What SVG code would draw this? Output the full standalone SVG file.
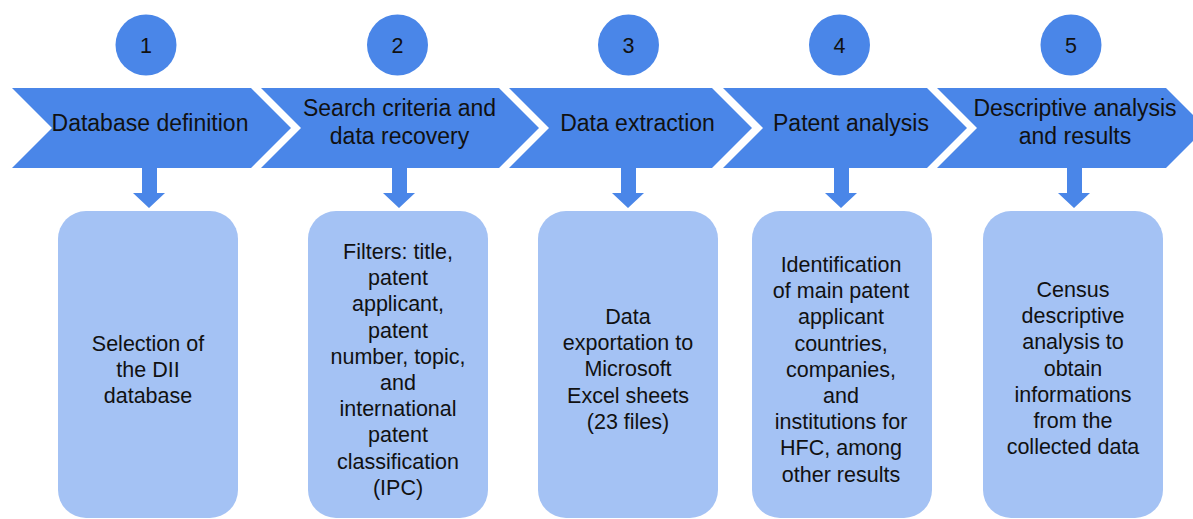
<svg xmlns="http://www.w3.org/2000/svg" width="1193" height="519" viewBox="0 0 1193 519">
<style>
.chev{fill:#4a86e8}
.circ{fill:#4a86e8}
.box{fill:#a4c2f4}
.arr{fill:#4a86e8}
text{font-family:"Liberation Sans",Arial,sans-serif;fill:#111;text-anchor:middle}
.h{font-size:23px}
.b{font-size:21.5px}
.n{font-size:21.5px}
</style>
<rect width="1193" height="519" fill="#fff"/>
<g id="connectors">
<path class="arr" d="M142 167 H157 V193 H165 L149 208 L133 193 H142 Z"/>
<path class="arr" d="M392 167 H407 V193 H415 L399 208 L383 193 H392 Z"/>
<path class="arr" d="M621 167 H636 V193 H644 L628 208 L612 193 H621 Z"/>
<path class="arr" d="M834 167 H849 V193 H857 L841 208 L825 193 H834 Z"/>
<path class="arr" d="M1067 167 H1082 V193 H1090 L1074 208 L1058 193 H1067 Z"/>
</g>
<g id="step1">
<circle class="circ" cx="146" cy="45" r="30.5"/>
<text class="n" x="146" y="53">1</text>
<path class="chev" d="M12 88 H251 L291 128 L251 168 H12 L52 128 Z"/>
<text class="h" x="150" y="131">Database definition</text>
<rect class="box" x="58" y="211" width="180" height="307" rx="28"/>
<text class="b" x="148" y="351">Selection of</text>
<text class="b" x="148" y="377">the DII</text>
<text class="b" x="148" y="403">database</text>
</g>
<g id="step2">
<circle class="circ" cx="397.5" cy="45" r="30.5"/>
<text class="n" x="397.5" y="53">2</text>
<path class="chev" d="M261 88 H499 L539 128 L499 168 H261 L301 128 Z"/>
<text class="h" x="399.5" y="116">Search criteria and</text>
<text class="h" x="399.5" y="144">data recovery</text>
<rect class="box" x="308" y="211" width="180" height="307" rx="28"/>
<text class="b" x="398" y="259">Filters: title,</text>
<text class="b" x="398" y="285.2">patent</text>
<text class="b" x="398" y="311.4">applicant,</text>
<text class="b" x="398" y="337.6">patent</text>
<text class="b" x="398" y="363.8">number, topic,</text>
<text class="b" x="398" y="390">and</text>
<text class="b" x="398" y="416.2">international</text>
<text class="b" x="398" y="442.4">patent</text>
<text class="b" x="398" y="468.6">classification</text>
<text class="b" x="398" y="494.8">(IPC)</text>
</g>
<g id="step3">
<circle class="circ" cx="628.5" cy="45" r="30.5"/>
<text class="n" x="628.5" y="53">3</text>
<path class="chev" d="M509 88 H712 L752 128 L712 168 H509 L549 128 Z"/>
<text class="h" x="637.5" y="131">Data extraction</text>
<rect class="box" x="538" y="211" width="180" height="307" rx="28"/>
<text class="b" x="628" y="324">Data</text>
<text class="b" x="628" y="350.2">exportation to</text>
<text class="b" x="628" y="376.4">Microsoft</text>
<text class="b" x="628" y="402.6">Excel sheets</text>
<text class="b" x="628" y="428.8">(23 files)</text>
</g>
<g id="step4">
<circle class="circ" cx="839.5" cy="45" r="30.5"/>
<text class="n" x="839.5" y="53">4</text>
<path class="chev" d="M723 88 H927 L967 128 L927 168 H723 L763 128 Z"/>
<text class="h" x="851" y="131">Patent analysis</text>
<rect class="box" x="752" y="211" width="180" height="307" rx="28"/>
<text class="b" x="841" y="272">Identification</text>
<text class="b" x="841" y="298.2">of main patent</text>
<text class="b" x="841" y="324.4">applicant</text>
<text class="b" x="841" y="350.6">countries,</text>
<text class="b" x="841" y="376.8">companies,</text>
<text class="b" x="841" y="403">and</text>
<text class="b" x="841" y="429.2">institutions for</text>
<text class="b" x="841" y="455.4">HFC, among</text>
<text class="b" x="841" y="481.6">other results</text>
</g>
<g id="step5">
<circle class="circ" cx="1071" cy="45" r="30.5"/>
<text class="n" x="1071" y="53">5</text>
<path class="chev" d="M937 88 H1166 L1206 128 L1166 168 H937 L977 128 Z"/>
<text class="h" x="1075" y="116">Descriptive analysis</text>
<text class="h" x="1075" y="144">and results</text>
<rect class="box" x="983" y="211" width="180" height="307" rx="28"/>
<text class="b" x="1073" y="297">Census</text>
<text class="b" x="1073" y="323.2">descriptive</text>
<text class="b" x="1073" y="349.4">analysis to</text>
<text class="b" x="1073" y="375.6">obtain</text>
<text class="b" x="1073" y="401.8">informations</text>
<text class="b" x="1073" y="428">from the</text>
<text class="b" x="1073" y="454.2">collected data</text>
</g>
</svg>
